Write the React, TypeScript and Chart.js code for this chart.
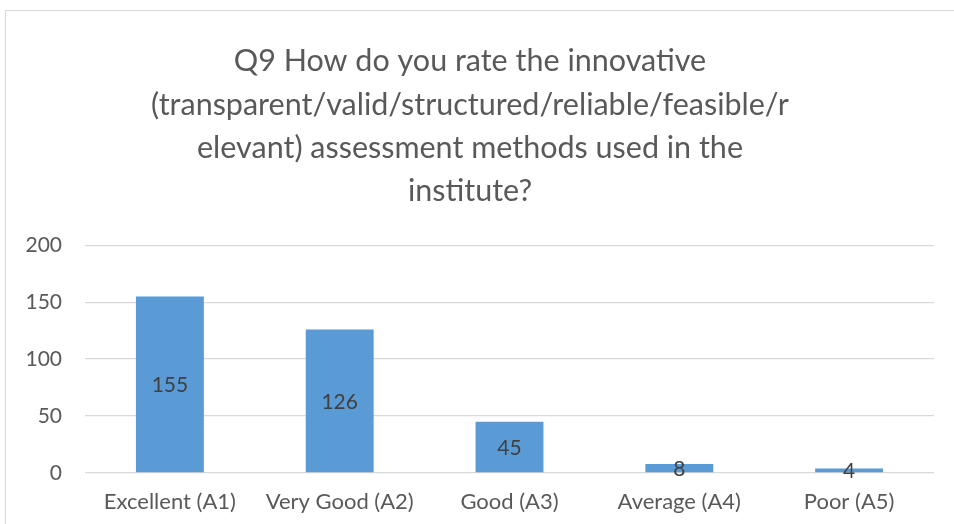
import React, { useEffect, useRef } from "react";
import { Chart, registerables } from "chart.js";

Chart.register(...registerables);

const categories: string[] = ["Excellent (A1)", "Very Good (A2)", "Good (A3)", "Average (A4)", "Poor (A5)"];
const responses: number[] = [155, 126, 45, 8, 4];
const titleLines: string[] = [
  "Q9 How do you rate the innovative",
  "(transparent/valid/structured/reliable/feasible/r",
  "elevant) assessment methods used in the",
  "institute?",
];
const yMin = 0;
const yMax = 200;
const yStep = 50;

const FONT = "Lato, 'Open Sans', sans-serif";

const valueLabels = {
  id: "valueLabels",
  afterDatasetsDraw(chart: any) {
    const ctx = chart.ctx;
    const meta = chart.getDatasetMeta(0);
    const data = chart.data.datasets[0].data as number[];
    ctx.save();
    ctx.fillStyle = "#404040";
    ctx.font = `21px ${FONT}`;
    ctx.textAlign = "center";
    ctx.textBaseline = "middle";
    meta.data.forEach((bar: any, i: number) => {
      const y = (bar.y + bar.base) / 2 + 1;
      ctx.fillText(String(data[i]), bar.x, y);
    });
    ctx.restore();
  },
};

export default function App() {
  const ref = useRef<HTMLCanvasElement | null>(null);

  useEffect(() => {
    document.body.style.margin = "0";
    document.body.style.overflow = "hidden";
    if (!ref.current) return;
    const chart = new Chart(ref.current, {
      type: "bar",
      data: {
        labels: categories,
        datasets: [
          {
            data: responses,
            backgroundColor: "#5B9BD5",
            borderWidth: 0,
            categoryPercentage: 0.4,
            barPercentage: 1,
          },
        ],
      },
      options: {
        animation: false,
        responsive: false,
        maintainAspectRatio: false,
        layout: { padding: { left: 0, right: 19, top: 0, bottom: 0 } },
        plugins: {
          legend: { display: false },
          tooltip: { enabled: false },
          title: {
            display: true,
            text: titleLines,
            color: "#595959",
            font: { family: FONT, size: 30.5, weight: "normal", lineHeight: 1.42 },
            padding: { top: 29, bottom: 32 },
          },
        },
        scales: {
          x: {
            grid: { display: false, drawTicks: false },
            border: { display: false },
            ticks: {
              color: "#595959",
              font: { family: FONT, size: 22 },
              padding: 16,
              maxRotation: 0,
              autoSkip: false,
            },
            afterFit(scale: any) {
              scale.height = 50;
            },
          },
          y: {
            min: yMin,
            max: yMax,
            ticks: {
              stepSize: yStep,
              color: "#595959",
              font: { family: FONT, size: 21 },
              padding: 23,
            },
            grid: { color: "#d9d9d9", drawTicks: false, lineWidth: 1.3 },
            border: { display: false },
            afterFit(scale: any) {
              scale.width = 79;
            },
          },
        },
      },
      plugins: [valueLabels],
    });
    return () => chart.destroy();
  }, []);

  return (
    <div
      style={{
        position: "absolute",
        left: 5,
        top: 10,
        width: 949,
        height: 514,
        borderLeft: "1.5px solid #d9d9d9",
        borderTop: "1.5px solid #d9d9d9",
        background: "#ffffff",
        boxSizing: "border-box",
      }}
    >
      <canvas ref={ref} width={947} height={512} style={{ display: "block" }} />
    </div>
  );
}
